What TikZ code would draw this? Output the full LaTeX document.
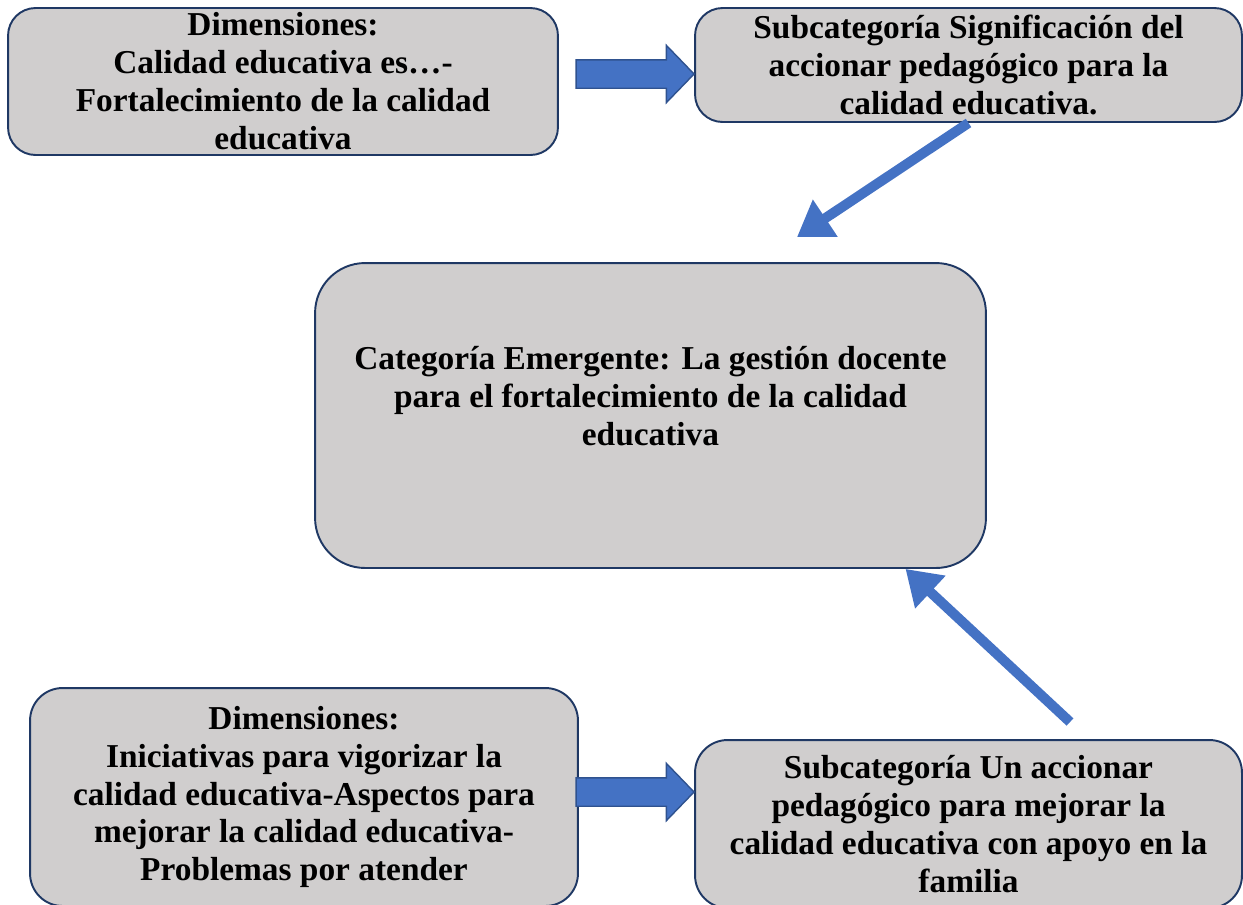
\documentclass[tikz,border=0pt]{standalone}
\usepackage{fontspec}
\setmainfont{Liberation Serif}
\usepackage{xcolor}
\usetikzlibrary{arrows.meta, shapes.arrows, calc}

\definecolor{boxgray}{HTML}{D0CECE}
\definecolor{boxline}{HTML}{1F3864}
\definecolor{arrblue}{HTML}{4472C4}
\definecolor{arrline}{HTML}{2F528F}

\tikzset{
    catbox/.style={draw=boxline, fill=boxgray, line width=1.1pt, rounded corners=0.55cm,
        align=center, font=\fontsize{19}{21.6}\selectfont\bfseries, inner sep=0pt},
    txt/.style={align=center, font=\fontsize{19}{21.6}\selectfont\bfseries},
    blockarr/.style={single arrow, draw=arrline, fill=arrblue, line width=0.8pt, anchor=tip,
        minimum height=2.36cm, inner xsep=0pt, inner ysep=0.27cm,
        single arrow head extend=0.29cm, single arrow tip angle=92},
    linearr/.style={draw=arrblue, line width=0.2cm, -{Triangle[length=0.68cm, width=0.85cm]}}
}

\begin{document}
\begin{tikzpicture}[x=0.02cm, y=-0.02cm]
    \useasboundingbox (0,0) rectangle (1243,904);

    % Define the boxes
    \node[catbox, minimum width=11cm, minimum height=2.94cm] (b1) at (283,81.5)
        {Dimensiones:\\ Calidad educativa es…-\\ Fortalecimiento de la calidad\\ educativa};
    \node[catbox, minimum width=10.94cm, minimum height=2.28cm] (b2) at (968.5,65)
        {Subcategoría Significación del\\ accionar pedagógico para la\\ calidad educativa.};
    \node[catbox, rounded corners=1cm, minimum width=13.42cm, minimum height=6.1cm] (b3) at (650.5,415.5) {};
    \node[txt] (b3txt) at ($(b3.center)+(0,-19.5)$)
        {Categoría Emergente: La gestión docente\\ para el fortalecimiento de la calidad\\ educativa};
    \node[catbox, rounded corners=0.65cm, minimum width=10.96cm, minimum height=4.36cm] (b4) at (304,797)
        {Dimensiones:\\ Iniciativas para vigorizar la\\ calidad educativa-Aspectos para\\ mejorar la calidad educativa-\\ Problemas por atender};
    \node[catbox, rounded corners=0.65cm, minimum width=10.94cm, minimum height=3.36cm] (b5) at (968.5,824)
        {Subcategoría Un accionar\\ pedagógico para mejorar la\\ calidad educativa con apoyo en la\\ familia};

    % Define the arrows
    \node[blockarr] (a1) at (695,74) {};
    \node[blockarr] (a2) at (695,792) {};
    \coordinate (t1) at (797,237);
    \coordinate (t2) at (1070,722);
    \draw[linearr] (b2.south) -- (t1);
    \draw[linearr] (t2) -- ($(b3.south)+(255,0)$);

\end{tikzpicture}
\end{document}
